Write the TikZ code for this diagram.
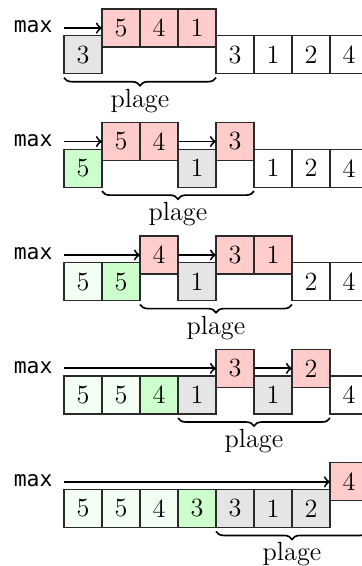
\documentclass[tikz,border=0pt]{standalone}
\usepackage{fontspec}
\newfontfamily\monofont{DejaVu Sans Mono}
\usetikzlibrary{decorations.pathreplacing}
\definecolor{pinkc}{HTML}{FFCCCC}
\definecolor{grayc}{HTML}{E5E5E5}
\definecolor{greenc}{HTML}{CCFFCC}
\definecolor{lgreenc}{HTML}{F2FFF2}
\definecolor{edgec}{HTML}{2A2A2A}
\begin{document}
\begin{tikzpicture}[x=0.6cm,y=0.6cm,
  cell/.style={draw=edgec, line width=0.55pt, minimum width=0.6cm, minimum height=0.6cm,
    inner sep=0pt, outer sep=0pt, font=\fontsize{11.8}{13}\selectfont},
  pk/.style={cell, fill=pinkc},
  gy/.style={cell, fill=grayc},
  gn/.style={cell, fill=greenc},
  lg/.style={cell, fill=lgreenc},
  wh/.style={cell, fill=white},
  ptr/.style={->, line width=0.85pt},
  brc/.style={decorate, decoration={brace, mirror, amplitude=3.6pt, raise=1.8pt}, line width=0.75pt},
  lbl/.style={anchor=base, font=\fontsize{11.8}{13}\selectfont, inner sep=0pt},
  maxlbl/.style={anchor=mid east, font=\monofont\fontsize{9.6}{11}\selectfont, inner xsep=5pt, inner ysep=0pt}
]
\useasboundingbox (-1.684,0) rectangle (7.816,-14.895);

% ---------- row 0 ----------
\node[gy] (r0b0) at (0.5,-1.44) {3};
\node[wh] (r0b4) at (4.5,-1.44) {3};
\node[wh] (r0b5) at (5.5,-1.44) {1};
\node[wh] (r0b6) at (6.5,-1.44) {2};
\node[wh] (r0b7) at (7.5,-1.44) {4};
\node[pk] (r0p1) at (1.5,-0.74) {5};
\node[pk] (r0p2) at (2.5,-0.74) {4};
\node[pk] (r0p3) at (3.5,-0.74) {1};
\coordinate (s0) at (0,-0.74);
\node[maxlbl] (m0) at (s0) {max};
\draw[ptr] (s0) -- (r0p1.west);
\coordinate (k0a) at (0,-1.94);
\coordinate (k0b) at (4,-1.94);
\draw[brc] (k0a) -- (k0b);
\node[lbl] (l0) at (2,-2.82) {plage};

% ---------- row 1 ----------
\node[gn] (r1b0) at (0.5,-4.425) {5};
\node[gy] (r1b3) at (3.5,-4.425) {1};
\node[wh] (r1b5) at (5.5,-4.425) {1};
\node[wh] (r1b6) at (6.5,-4.425) {2};
\node[wh] (r1b7) at (7.5,-4.425) {4};
\node[pk] (r1p1) at (1.5,-3.725) {5};
\node[pk] (r1p2) at (2.5,-3.725) {4};
\node[pk] (r1p4) at (4.5,-3.725) {3};
\coordinate (s1) at (0,-3.725);
\node[maxlbl] (m1) at (s1) {max};
\draw[ptr] (s1) -- (r1p1.west);
\draw[ptr] (r1p2.east) -- (r1p4.west);
\coordinate (k1a) at (1,-4.925);
\coordinate (k1b) at (5,-4.925);
\draw[brc] (k1a) -- (k1b);
\node[lbl] (l1) at (3,-5.805) {plage};

% ---------- row 2 ----------
\node[lg] (r2b0) at (0.5,-7.41) {5};
\node[gn] (r2b1) at (1.5,-7.41) {5};
\node[gy] (r2b3) at (3.5,-7.41) {1};
\node[wh] (r2b6) at (6.5,-7.41) {2};
\node[wh] (r2b7) at (7.5,-7.41) {4};
\node[pk] (r2p2) at (2.5,-6.71) {4};
\node[pk] (r2p4) at (4.5,-6.71) {3};
\node[pk] (r2p5) at (5.5,-6.71) {1};
\coordinate (s2) at (0,-6.71);
\node[maxlbl] (m2) at (s2) {max};
\draw[ptr] (s2) -- (r2p2.west);
\draw[ptr] (r2p2.east) -- (r2p4.west);
\coordinate (k2a) at (2,-7.91);
\coordinate (k2b) at (6,-7.91);
\draw[brc] (k2a) -- (k2b);
\node[lbl] (l2) at (4,-8.79) {plage};

% ---------- row 3 ----------
\node[lg] (r3b0) at (0.5,-10.395) {5};
\node[lg] (r3b1) at (1.5,-10.395) {5};
\node[gn] (r3b2) at (2.5,-10.395) {4};
\node[gy] (r3b3) at (3.5,-10.395) {1};
\node[gy] (r3b5) at (5.5,-10.395) {1};
\node[wh] (r3b7) at (7.5,-10.395) {4};
\node[pk] (r3p4) at (4.5,-9.695) {3};
\node[pk] (r3p6) at (6.5,-9.695) {2};
\coordinate (s3) at (0,-9.695);
\node[maxlbl] (m3) at (s3) {max};
\draw[ptr] (s3) -- (r3p4.west);
\draw[ptr] (r3p4.east) -- (r3p6.west);
\coordinate (k3a) at (3,-10.895);
\coordinate (k3b) at (7,-10.895);
\draw[brc] (k3a) -- (k3b);
\node[lbl] (l3) at (5,-11.775) {plage};

% ---------- row 4 ----------
\node[lg] (r4b0) at (0.5,-13.38) {5};
\node[lg] (r4b1) at (1.5,-13.38) {5};
\node[lg] (r4b2) at (2.5,-13.38) {4};
\node[gn] (r4b3) at (3.5,-13.38) {3};
\node[gy] (r4b4) at (4.5,-13.38) {3};
\node[gy] (r4b5) at (5.5,-13.38) {1};
\node[gy] (r4b6) at (6.5,-13.38) {2};
\node[pk] (r4p7) at (7.5,-12.68) {4};
\coordinate (s4) at (0,-12.68);
\node[maxlbl] (m4) at (s4) {max};
\draw[ptr] (s4) -- (r4p7.west);
\coordinate (k4a) at (4,-13.88);
\coordinate (k4b) at (8,-13.88);
\draw[brc] (k4a) -- (k4b);
\node[lbl] (l4) at (6,-14.76) {plage};
\end{tikzpicture}
\end{document}
